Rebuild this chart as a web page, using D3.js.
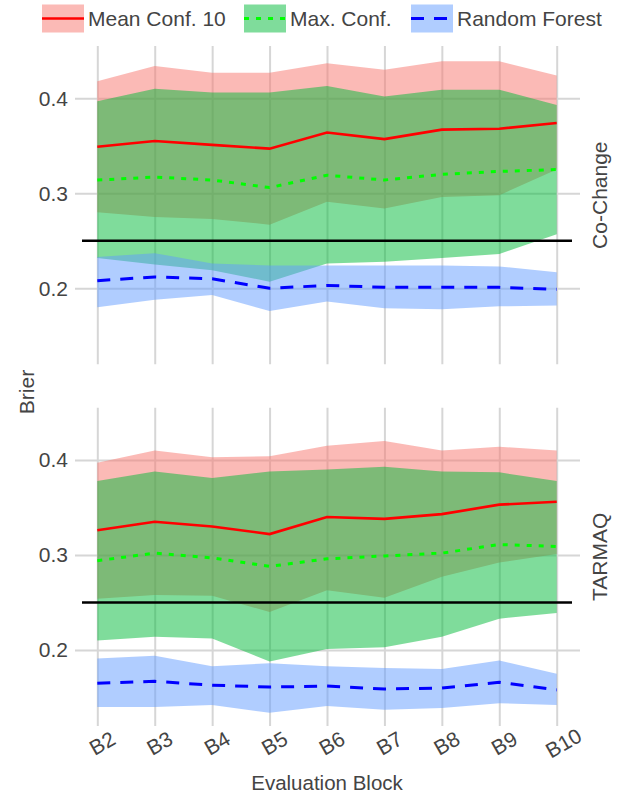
<!DOCTYPE html>
<html>
<head>
<meta charset="utf-8">
<script src="https://cdn.jsdelivr.net/npm/d3@7"></script>
<style>
  html, body { margin: 0; padding: 0; background: #fff; }
  svg text { font-family: "Liberation Sans", Arial, Helvetica, sans-serif; fill: #444; }
</style>
</head>
<body>
<svg id="chart" width="618" height="800"></svg>
<script>
// Evaluation blocks on the x axis
const blocks = ["B2", "B3", "B4", "B5", "B6", "B7", "B8", "B9", "B10"];
const yTicks = [0.2, 0.3, 0.4];
const baseline = 0.25;

// Co-Change facet
const coMean   = [0.349, 0.355, 0.351, 0.347, 0.364, 0.357, 0.367, 0.368, 0.374];
const coMeanLo = [0.280, 0.275, 0.273, 0.267, 0.291, 0.284, 0.296, 0.298, 0.325];
const coMeanHi = [0.418, 0.434, 0.427, 0.427, 0.437, 0.430, 0.439, 0.439, 0.424];
const coMax    = [0.314, 0.317, 0.314, 0.306, 0.319, 0.314, 0.320, 0.323, 0.325];
const coMaxLo  = [0.232, 0.225, 0.219, 0.207, 0.226, 0.228, 0.232, 0.236, 0.257];
const coMaxHi  = [0.397, 0.410, 0.406, 0.406, 0.413, 0.402, 0.409, 0.409, 0.393];
const coRf     = [0.208, 0.212, 0.210, 0.200, 0.203, 0.201, 0.201, 0.201, 0.199];
const coRfLo   = [0.180, 0.188, 0.193, 0.176, 0.186, 0.179, 0.178, 0.181, 0.182];
const coRfHi   = [0.233, 0.237, 0.226, 0.224, 0.224, 0.224, 0.224, 0.223, 0.217];

// TARMAQ facet
const taMean   = [0.326, 0.335, 0.330, 0.322, 0.340, 0.338, 0.343, 0.353, 0.356];
const taMeanLo = [0.254, 0.258, 0.257, 0.240, 0.263, 0.255, 0.277, 0.292, 0.301];
const taMeanHi = [0.397, 0.410, 0.403, 0.404, 0.415, 0.420, 0.410, 0.414, 0.410];
const taMax    = [0.294, 0.302, 0.297, 0.288, 0.296, 0.299, 0.302, 0.311, 0.309];
const taMaxLo  = [0.210, 0.214, 0.212, 0.188, 0.201, 0.203, 0.214, 0.233, 0.239];
const taMaxHi  = [0.378, 0.388, 0.381, 0.388, 0.390, 0.393, 0.388, 0.387, 0.378];
const taRf     = [0.165, 0.167, 0.163, 0.161, 0.162, 0.159, 0.160, 0.166, 0.158];
const taRfLo   = [0.140, 0.140, 0.142, 0.134, 0.141, 0.137, 0.139, 0.144, 0.142];
const taRfHi   = [0.191, 0.194, 0.183, 0.186, 0.183, 0.181, 0.180, 0.189, 0.175];

const seriesNames = ["Mean Conf. 10", "Max. Conf.", "Random Forest"];
const fills  = ["#F8766D", "#00BA38", "#619CFF"];
const strokes = ["#ff0000", "#00ff00", "#0000ff"];
const dashes = [null, "5,7", "13,10"];

const facets = [
  { name: "Co-Change", top: 46.05,
    series: [[coMean, coMeanLo, coMeanHi], [coMax, coMaxLo, coMaxHi], [coRf, coRfLo, coRfHi]] },
  { name: "TARMAQ", top: 407.75,
    series: [[taMean, taMeanLo, taMeanHi], [taMax, taMaxLo, taMaxHi], [taRf, taRfLo, taRfHi]] }
];

const svg = d3.select("#chart");
const panelH = 318.25;
const gridLeft = 75, gridRight = 580;
const lineLeft = 82, lineRight = 572;
const fontSize = "21px";

const x = d3.scalePoint().domain(blocks).range([97.3, 556.7]);

facets.forEach((f, fi) => {
  const y = d3.scaleLinear().domain([0.12, 0.455]).range([f.top + panelH, f.top]);
  const g = svg.append("g");
  const bottom = f.top + panelH;

  // horizontal grid + y labels
  const yAxis = g.append("g")
    .attr("transform", `translate(${gridLeft},0)`)
    .call(d3.axisLeft(y).tickValues(yTicks).tickFormat(d3.format(".1f"))
      .tickSize(-(gridRight - gridLeft)).tickPadding(7));
  yAxis.select(".domain").remove();
  yAxis.selectAll("line").attr("stroke", "#d6d6d6").attr("stroke-width", 2);
  yAxis.selectAll("text").style("font-size", fontSize).attr("fill", "#444");

  // vertical grid (+ x labels on the lower facet)
  const xAxis = g.append("g")
    .attr("transform", `translate(0,${bottom})`)
    .call(d3.axisBottom(x).tickSize(-panelH).tickPadding(0));
  xAxis.select(".domain").remove();
  xAxis.selectAll("line").attr("stroke", "#d6d6d6").attr("stroke-width", 2);
  if (fi === facets.length - 1) {
    xAxis.selectAll("text")
      .style("font-size", fontSize)
      .attr("fill", "#444")
      .attr("y", 0).attr("dy", null)
      .attr("text-anchor", "middle")
      .attr("dominant-baseline", "central")
      .attr("transform", function () {
        const len = this.getComputedTextLength();
        return `translate(${0.17 * len},17) rotate(-30)`;
      });
  } else {
    xAxis.selectAll("text").remove();
  }

  // ribbons
  f.series.forEach((s, si) => {
    const [mid, lo, hi] = s;
    const area = d3.area()
      .x((d, i) => x(blocks[i]))
      .y0((d, i) => y(lo[i]))
      .y1((d, i) => y(hi[i]));
    g.append("path").datum(mid)
      .attr("d", area)
      .attr("fill", fills[si])
      .attr("fill-opacity", 0.5);
  });

  // reference line at 0.25
  g.append("line")
    .attr("x1", lineLeft).attr("x2", lineRight)
    .attr("y1", y(baseline)).attr("y2", y(baseline))
    .attr("stroke", "#000").attr("stroke-width", 2.5);

  // series lines
  f.series.forEach((s, si) => {
    const line = d3.line().x((d, i) => x(blocks[i])).y(d => y(d));
    g.append("path").datum(s[0])
      .attr("d", line)
      .attr("fill", "none")
      .attr("stroke", strokes[si])
      .attr("stroke-width", si === 0 ? 2.6 : 3)
      .attr("stroke-dasharray", dashes[si]);
  });

  // facet strip label
  const cy = f.top + panelH / 2 - 10;
  g.append("text")
    .attr("transform", `translate(599,${cy}) rotate(-90)`)
    .attr("text-anchor", "middle")
    .attr("dominant-baseline", "central")
    .style("font-size", fontSize)
    .text(f.name);
});

// axis titles
svg.append("text")
  .attr("x", 327).attr("y", 782)
  .attr("text-anchor", "middle")
  .attr("dominant-baseline", "central")
  .style("font-size", "20.5px")
  .text("Evaluation Block");

svg.append("text")
  .attr("transform", "translate(26,392) rotate(-90)")
  .attr("text-anchor", "middle")
  .attr("dominant-baseline", "central")
  .style("font-size", fontSize)
  .text("Brier");

// legend
const legendX = [42, 244, 411];
const legend = svg.append("g");
seriesNames.forEach((name, i) => {
  const lx = legendX[i];
  legend.append("rect")
    .attr("x", lx).attr("y", 4.5).attr("width", 42).attr("height", 28)
    .attr("fill", fills[i]).attr("fill-opacity", 0.5);
  legend.append("line")
    .attr("x1", lx).attr("x2", lx + 42).attr("y1", 18.5).attr("y2", 18.5)
    .attr("stroke", strokes[i])
    .attr("stroke-width", i === 0 ? 2.6 : 3)
    .attr("stroke-dasharray", dashes[i]);
  legend.append("text")
    .attr("x", lx + 46).attr("y", 18.5)
    .attr("dominant-baseline", "central")
    .style("font-size", fontSize)
    .text(name);
});
</script>
</body>
</html>
